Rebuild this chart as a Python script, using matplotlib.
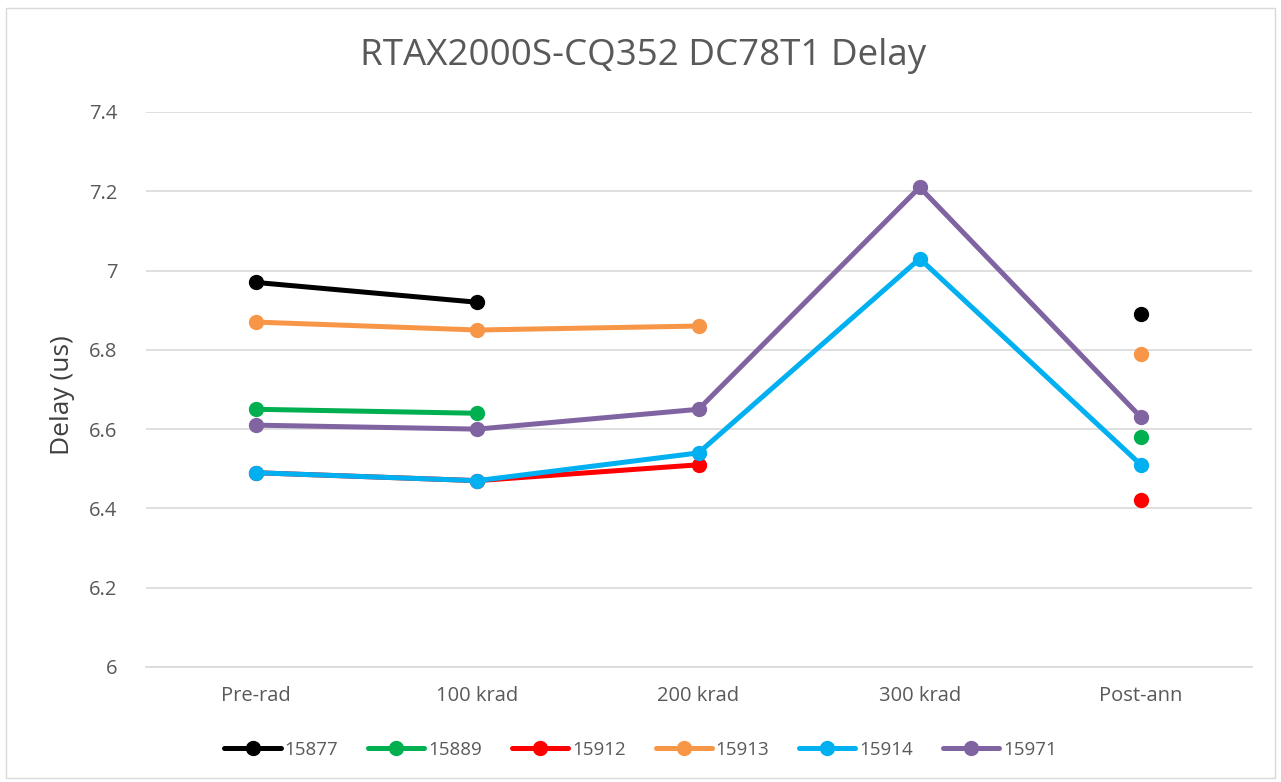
import numpy as np
import matplotlib.pyplot as plt
from matplotlib.patches import Rectangle

plt.rcParams['font.family'] = ['Open Sans', 'DejaVu Sans']

#############################################################################
# Data #
categories = ['Pre-rad', '100 krad', '200 krad', '300 krad', 'Post-ann']
nan = np.nan
d15877 = [6.97, 6.92, nan, nan, 6.89]
d15889 = [6.65, 6.64, nan, nan, 6.58]
d15912 = [6.49, 6.47, 6.51, nan, 6.42]
d15913 = [6.87, 6.85, 6.86, nan, 6.79]
d15914 = [6.49, 6.47, 6.54, 7.03, 6.51]
d15971 = [6.61, 6.60, 6.65, 7.21, 6.63]

series = [
    ('15877', d15877, '#000000'),
    ('15889', d15889, '#00B050'),
    ('15912', d15912, '#FF0000'),
    ('15913', d15913, '#F79646'),
    ('15914', d15914, '#00B0F0'),
    ('15971', d15971, '#8064A2'),
]

#############################################################################
# Plotting #
fig = plt.figure(figsize=(12.81, 7.82), dpi=100)
fig.patches.append(Rectangle((0.005, 0.005), 0.99, 0.985, transform=fig.transFigure,
                             fill=False, edgecolor='#D9D9D9', linewidth=1))
ax = fig.add_axes([0.1136, 0.1471, 0.8634, 0.7097])

x = np.arange(len(categories))
for name, vals, col in series:
    ax.plot(x, vals, color=col, linewidth=3.6, marker='o', markersize=10,
            solid_capstyle='round', label=name, zorder=3)

ax.set_xlim(-0.5, 4.5)
ax.set_ylim(6, 7.4)
ax.set_yticks(np.arange(6, 7.41, 0.2))
ax.set_yticklabels(['6', '6.2', '6.4', '6.6', '6.8', '7', '7.2', '7.4'])
ax.set_xticks(x)
ax.set_xticklabels(categories)
ax.grid(axis='y', color='#D9D9D9', linewidth=1.2)
ax.set_axisbelow(True)
for s in ['top', 'right', 'left']:
    ax.spines[s].set_visible(False)
ax.spines['bottom'].set_color('#D9D9D9')
ax.spines['bottom'].set_linewidth(1.2)
ax.tick_params(axis='both', length=0, labelsize=14.5, labelcolor='#595959')
ax.tick_params(axis='y', pad=20)
ax.tick_params(axis='x', pad=14)

ax.set_ylabel('Delay (us)', fontsize=19, color='#404040')
ax.yaxis.set_label_coords(-0.064, 0.49)
fig.text(0.502, 0.928, 'RTAX2000S-CQ352 DC78T1 Delay', ha='center', va='center',
         fontsize=26.5, color='#595959')

fig.legend(loc='center', bbox_to_anchor=(0.5, 0.041), ncol=6, frameon=False,
           fontsize=13.5, labelcolor='#595959', handlelength=3.0, handletextpad=0.2,
           columnspacing=1.6)

plt.savefig('out.png')
